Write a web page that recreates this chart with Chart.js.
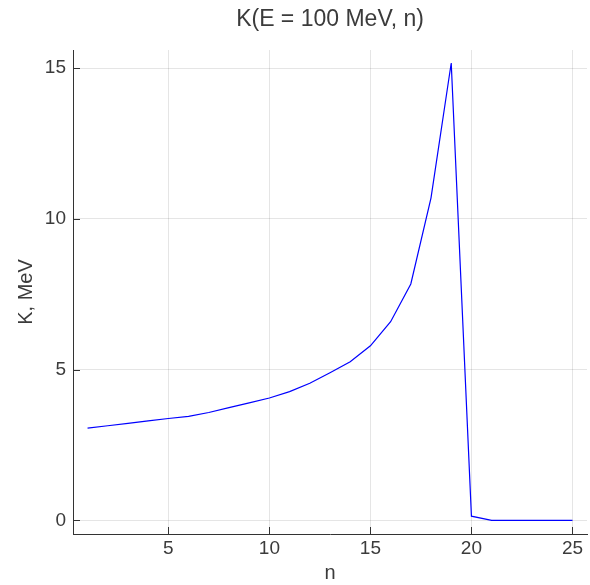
<!DOCTYPE html>
<html>
<head>
<meta charset="utf-8">
<script src="https://cdn.jsdelivr.net/npm/chart.js@4"></script>
<style>
  html, body { margin: 0; padding: 0; background: #fff; }
  #wrap { width: 590px; height: 585px; }
</style>
</head>
<body>
<div id="wrap"><canvas id="kChart" width="590" height="585"></canvas></div>
<script>
const nValues = [1, 2, 3, 4, 5, 6, 7, 8, 9, 10, 11, 12, 13, 14, 15, 16, 17, 18, 19, 20, 21, 22, 23, 24, 25];
const kValues = [3.06, 3.14, 3.22, 3.30, 3.38, 3.45, 3.58, 3.74, 3.90, 4.06, 4.27, 4.55, 4.90, 5.26, 5.79,
                 6.59, 7.84, 10.70, 15.17, 0.14, 0, 0, 0, 0, 0];
const xTicks = [5, 10, 15, 20, 25];
const yTicks = [0, 5, 10, 15];
const titleText = "K(E = 100 MeV, n)";

const FONT = "'Liberation Sans', Arial, Helvetica, sans-serif";
const TEXT = "#3b3b3b";

// inner tick marks + title centred over the plot area
const frame = {
  id: "frame",
  afterDraw(chart) {
    const { ctx, chartArea: a, scales } = chart;
    ctx.save();
    ctx.strokeStyle = "#333";
    ctx.lineWidth = 1;
    ctx.beginPath();
    yTicks.forEach(v => {
      const py = Math.round(scales.y.getPixelForValue(v)) + 0.5;
      ctx.moveTo(a.left, py); ctx.lineTo(a.left + 7, py);
    });
    xTicks.forEach(v => {
      const px = Math.round(scales.x.getPixelForValue(v)) + 0.5;
      ctx.moveTo(px, a.bottom); ctx.lineTo(px, a.bottom - 7);
    });
    ctx.stroke();
    ctx.fillStyle = TEXT;
    ctx.font = "23px " + FONT;
    ctx.textAlign = "center";
    ctx.textBaseline = "middle";
    ctx.fillText(titleText, (a.left + a.right) / 2, 20);
    ctx.restore();
  }
};

new Chart(document.getElementById("kChart"), {
  type: "line",
  data: {
    datasets: [{
      data: nValues.map((n, i) => ({ x: n, y: kValues[i] })),
      borderColor: "#0000ff",
      borderWidth: 1.2,
      pointRadius: 0,
      tension: 0,
      fill: false
    }]
  },
  options: {
    responsive: false,
    animation: false,
    layout: { padding: { top: 50, right: 3, left: 14 } },
    plugins: { legend: { display: false }, tooltip: { enabled: false }, title: { display: false } },
    scales: {
      x: {
        type: "linear",
        min: 0.28,
        max: 25.72,
        afterFit(s) { s.height = 51; },
        afterBuildTicks(s) { s.ticks = xTicks.map(v => ({ value: v })); },
        grid: { color: "rgba(0,0,0,0.1)", drawTicks: false },
        border: { color: "#333", width: 1 },
        ticks: { color: TEXT, font: { family: FONT, size: 19 }, padding: 3 },
        title: { display: true, text: "n", color: TEXT, font: { family: FONT, size: 20 }, padding: { top: 0, bottom: 0 } }
      },
      y: {
        min: -0.45,
        max: 15.6,
        afterFit(s) { s.width = 59; },
        afterBuildTicks(s) { s.ticks = yTicks.map(v => ({ value: v })); },
        grid: { color: "rgba(0,0,0,0.1)", drawTicks: false },
        border: { color: "#333", width: 1 },
        ticks: { color: TEXT, font: { family: FONT, size: 19 }, padding: 7 },
        title: { display: true, text: "K, MeV", color: TEXT, font: { family: FONT, size: 20 }, padding: { top: 0, bottom: 0 } }
      }
    }
  },
  plugins: [frame]
});
</script>
</body>
</html>
